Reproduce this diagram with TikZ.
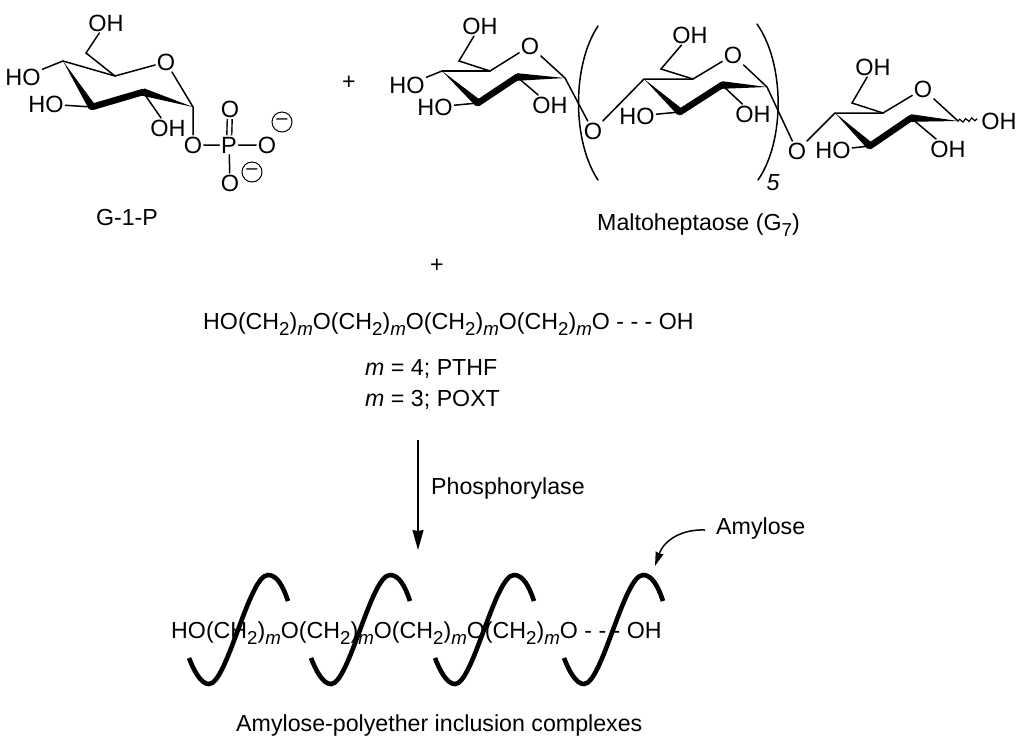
\documentclass[tikz,border=0pt]{standalone}
\usepackage{fontspec}
\setmainfont{Liberation Sans}
\usetikzlibrary{calc}
\usetikzlibrary{arrows.meta}
\usetikzlibrary{decorations.pathmorphing}
\newcommand{\subt}[1]{\raisebox{-0.26em}{\fontsize{18.7}{19}\selectfont #1}}
\newcommand{\chainunit}{(CH\subt{2})\subt{\textit{m}}O}
\newcommand{\chaintext}{HO\chainunit\chainunit\chainunit\chainunit{} - - - OH}
\newcommand{\wedgebond}[2]% narrow end, wide end
{\fill ($(#2)!3.8pt!90:(#1)$) -- (#1) -- ($(#2)!3.8pt!-90:(#1)$) -- cycle;
}
\tikzset{
	lbl/.style={font=\fontsize{23.2}{25}\selectfont, inner sep=0pt},
	atom/.style={font=\fontsize{23.5}{25}\selectfont, inner sep=1.5pt},
	bond/.style={line width=1.5pt, line cap=round},
	boldbond/.style={line width=6.5pt, line cap=round},
	dblbond/.style={double=white, double distance=3.5pt, line width=1.4pt},
	charge/.style={draw, circle, line width=1pt, minimum size=20pt, inner sep=0pt, font=\fontsize{20}{20}\selectfont},
	arr/.style={line width=1.5pt, -{Stealth[length=20pt,width=11pt,inset=1pt]}},
	helixline/.style={line width=4.6pt},
}
\begin{document}
\begin{tikzpicture}[x=1pt,y=-1pt]
	\useasboundingbox (0,0) rectangle (1024,740);
	% G-1-P
	\coordinate (a4) at (63,61);
	\coordinate (a5) at (115,76);
	\coordinate (a6) at (86,53);
	\coordinate (a3) at (92,107);
	\coordinate (a2) at (143,92);
	\coordinate (a1) at (193,107);
	\node[atom] (ao) at (166,62){O};
	\node[atom] (aoh6) at (106,23){OH};
	\node[atom] (aoh4) at (23,77){HO};
	\node[atom] (aoh3) at (46,104){HO};
	\node[atom] (aoh2) at (168,128){OH};
	\node[atom] (ao1) at (193,145){O};
	\node[atom] (ap) at (229,145){P};
	\node[atom] (apo1) at (230,109){O};
	\node[atom] (apo2) at (267,145){O};
	\node[atom] (apo3) at (230,183){O};
	\node[charge] (am1) at (282,122){--};
	\node[charge] (am2) at (252,172){--};
	\draw[bond] (aoh6) -- (a6) -- (a5) -- (ao) -- (a1) -- (ao1) -- (ap) -- (apo2);
	\draw[bond] (a4) -- (a5);
	\draw[bond] (a4) -- (aoh4);
	\draw[bond] (a3) -- (aoh3);
	\draw[bond] (a2) -- (aoh2);
	\draw[bond] (ap) -- (apo3);
	\draw[dblbond] (ap) -- (apo1);
	\wedgebond{a4}{a3}
	\wedgebond{a1}{a2}
	\draw[boldbond] (a3) -- (a2);
	\node[lbl, anchor=base] (aname) at (127,225){G-1-P};
	\node[lbl] (plus1) at (349,83){+};
	% Maltoheptaose, first unit
	\coordinate (b4) at (442,71);
	\coordinate (b5) at (490,71);
	\coordinate (b6) at (459,61);
	\coordinate (b3) at (478,103);
	\coordinate (b2) at (517,77);
	\coordinate (b1) at (565,78);
	\node[atom] (bo) at (530,46){O};
	\node[atom] (boh6) at (480,26){OH};
	\node[atom] (boh4) at (407,85){HO};
	\node[atom] (boh3) at (435,107){HO};
	\node[atom] (boh2) at (550,105){OH};
	\node[atom] (bo1) at (593,131){O};
	\draw[bond] (boh6) -- (b6) -- (b5) -- (bo) -- (b1) -- (bo1);
	\draw[bond] (b4) -- (b5);
	\draw[bond] (b4) -- (boh4);
	\draw[bond] (b3) -- (boh3);
	\draw[bond] (b2) -- (boh2);
	\wedgebond{b4}{b3}
	\wedgebond{b1}{b2}
	\draw[boldbond] (b3) -- (b2);
	% second unit
	\coordinate (c4) at (644,79);
	\coordinate (c5) at (693,79);
	\coordinate (c6) at (661,69);
	\coordinate (c3) at (680,112);
	\coordinate (c2) at (722,85);
	\coordinate (c1) at (767,87);
	\node[atom] (co) at (733,55){O};
	\node[atom] (coh6) at (690,35){OH};
	\node[atom] (coh3) at (637,116){HO};
	\node[atom] (coh2) at (753,114){OH};
	\node[atom] (co1) at (797,151){O};
	\draw[bond] (bo1) -- (c4) -- (c5) -- (co) -- (c1) -- (co1);
	\draw[bond] (coh6) -- (c6) -- (c5);
	\draw[bond] (c3) -- (coh3);
	\draw[bond] (c2) -- (coh2);
	\wedgebond{c4}{c3}
	\wedgebond{c1}{c2}
	\draw[boldbond] (c3) -- (c2);
	% third unit
	\coordinate (d4) at (835,113);
	\coordinate (d5) at (883,113);
	\coordinate (d6) at (852,103);
	\coordinate (d3) at (870,146);
	\coordinate (d2) at (911,118);
	\coordinate (d1) at (958,121);
	\coordinate (dw) at (977,119);
	\node[atom] (do) at (923,89){O};
	\node[atom] (doh6) at (873,67){OH};
	\node[atom] (doh3) at (833,150){HO};
	\node[atom] (doh2) at (948,149){OH};
	\node[atom] (doh1) at (999,121){OH};
	\draw[bond] (co1) -- (d4) -- (d5) -- (do) -- (d1);
	\draw[bond] (doh6) -- (d6) -- (d5);
	\draw[bond] (d3) -- (doh3);
	\draw[bond] (d2) -- (doh2);
	\draw[bond, line width=1.2pt, decorate, decoration={snake, amplitude=1.6pt, segment length=6pt}] (d1) -- (dw);
	\wedgebond{d4}{d3}
	\wedgebond{d1}{d2}
	\draw[boldbond] (d3) -- (d2);
	% brackets
	\draw[bond] (598,26) .. controls (572,65) and (572,141) .. (598,180);
	\draw[bond] (757,24) .. controls (785,64) and (785,141) .. (758,180);
	\node[lbl, font=\fontsize{23.2}{25}\selectfont\itshape] (rep) at (773,183){5};
	\node[lbl, anchor=base west] (bname) at (597,230){Maltoheptaose (G\subt{7})};
	\node[lbl] (plus2) at (437,266){+};
	% polyether
	\node[lbl, anchor=base west] (poly) at (203,329){\chaintext};
	\node[lbl, anchor=base west] (mfour) at (365,375){\textit{m} = 4; PTHF};
	\node[lbl, anchor=base west] (mthree) at (365,406){\textit{m} = 3; POXT};
	% reaction arrow
	\coordinate (rstart) at (418,440);
	\coordinate (rend) at (418,550);
	\draw[arr] (rstart) -- (rend);
	\node[lbl, anchor=base west] (enz) at (431,494){Phosphorylase};
	% complex
	\node[lbl, anchor=base west] (incl) at (171,638){\chaintext};
	\foreach \hx in {189,311,435,564}{
		\draw[helixline, xshift=\hx pt] (0,658) .. controls (5,671) and (12,684) .. (20,684) .. controls (38,684) and (60,575) .. (79,575) .. controls (88,575) and (94,586) .. (99,601);
	}
	\node[lbl, anchor=base west] (amy) at (716,534){Amylose};
	\coordinate (amyend) at (705,530);
	\coordinate (amytip) at (655,566);
	\draw[arr, -{Stealth[length=14pt,width=8pt,inset=1pt]}] (amyend) .. controls (682,529) and (664,540) .. (amytip);
	\node[lbl, anchor=base west] (cname) at (236,731){Amylose-polyether inclusion complexes};
\end{tikzpicture}
\end{document}
